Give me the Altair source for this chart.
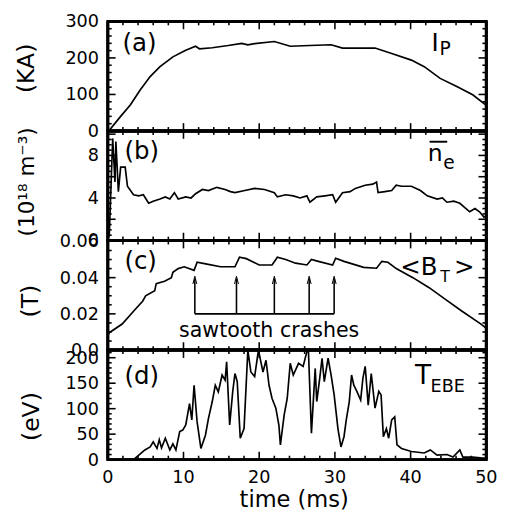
import altair as alt
import pandas as pd

FONT = "DejaVu Sans"
PL, PW, PH = 102, 387, 112          # plot left, plot width, panel height (pixels)
TOTAL_W, TOTAL_H = PL + PW, 510

# ---------------- data ----------------
time_labels = [0, 10, 20, 30, 40, 50]
time_label_text = ["0", "10", "20", "30", "40", "50"]
time_major = [10, 20, 30, 40]
time_minor = [2, 4, 6, 8, 12, 14, 16, 18, 22, 24, 26, 28, 32, 34, 36, 38, 42, 44, 46, 48]

# (a) plasma current, kA
ip_t = [0, 0.2, 1.7, 3.0, 4.3, 5.6, 6.9, 8.6, 10.3, 11.6, 12.1, 13.8, 15.9, 17.7, 18.5,
        19.4, 22.0, 24.1, 26.7, 29.5, 31.0, 35.3, 37.5, 40.1, 41.8, 43.9, 46.1, 48.2, 50]
ip_v = [0, 2, 40, 72, 113, 149, 176, 203, 221, 232, 225, 228, 234, 240, 236,
        239, 245, 232, 234, 236, 227, 227, 212, 194, 176, 144, 122, 99, 70]

# (b) line-averaged density, 1e18 m^-3
ne_t = [0, 0.2, 0.65, 0.95, 1.07, 1.4, 1.7, 2.3, 2.6, 3.4, 4.1, 4.7, 5.4, 6.0, 6.9, 7.6,
        8.2, 8.8, 9.3, 10.3, 11.0, 11.6, 12.5, 13.3, 14.4, 15.5, 16.2, 16.8, 18.1, 19.4,
        20.7, 22.0, 22.4, 23.5, 24.5, 25.4, 26.3, 26.7, 27.6, 28.7, 29.7, 30.1, 31.0, 32.0,
        32.7, 34.0, 35.0, 35.5, 35.7, 36.6, 37.5, 38.1, 38.8, 40.1, 41.3, 42.2, 43.5, 44.2,
        44.8, 45.7, 46.5, 47.8, 48.5, 49.1, 49.7, 50]
ne_v = [0, 0.5, 9.6, 5.5, 9.3, 4.6, 6.9, 6.9, 5.1, 4.3, 4.2, 4.3, 3.5, 3.7, 3.9, 4.1,
        3.9, 4.5, 3.9, 4.1, 4.0, 4.4, 4.8, 4.7, 5.0, 4.8, 4.6, 4.5, 4.7, 4.9,
        4.8, 4.5, 4.1, 4.3, 4.2, 4.0, 4.2, 3.6, 4.1, 4.2, 4.3, 3.6, 4.5, 4.6,
        4.9, 5.2, 5.3, 5.5, 4.5, 4.6, 4.7, 5.2, 5.1, 5.1, 4.7, 4.2, 3.9, 4.0,
        3.6, 3.7, 3.5, 2.7, 3.0, 2.7, 2.2, 2.3]

# (c) toroidal field, T
bt_t = [0, 0.2, 1.9, 3.7, 4.6, 5.0, 6.2, 6.4, 7.5, 8.4, 8.6, 9.3, 10.1, 11.4, 11.8,
        13.1, 14.9, 16.8, 17.4, 18.3, 20.0, 21.7, 22.4, 23.5, 24.8, 26.3, 26.9, 27.8,
        29.7, 30.1, 31.2, 33.8, 35.5, 36.2, 37.0, 38.1, 40.3, 42.4, 44.6, 46.7, 49.3, 50]
bt_v = [0.008, 0.0096, 0.0144, 0.0228, 0.027, 0.030, 0.0328, 0.0367, 0.038, 0.040, 0.043,
        0.045, 0.046, 0.044, 0.0485, 0.0475, 0.046, 0.046, 0.0513, 0.0505, 0.047, 0.047,
        0.0513, 0.050, 0.048, 0.047, 0.050, 0.049, 0.047, 0.0507, 0.049, 0.0457, 0.0452,
        0.049, 0.0485, 0.045, 0.040, 0.0346, 0.028, 0.0217, 0.0143, 0.012]
crash_times = [11.5, 17.0, 22.0, 26.6, 29.9]

# (d) electron temperature from EBE, eV
te_t = [0, 3.4, 4.1, 4.9, 5.6, 6.0, 6.5, 6.8, 7.1, 7.6, 8.2, 8.6, 9.0, 9.5, 9.9, 10.3,
        10.8, 11.1, 11.4, 11.8, 12.3, 12.9, 13.3, 13.8, 14.2, 14.6, 15.1, 15.5, 15.7, 16.1,
        16.5, 16.8, 17.1, 17.5, 18.0, 18.5, 18.9, 19.4, 19.9, 20.5, 20.9, 21.3, 21.7, 22.2,
        22.6, 22.8, 23.3, 23.7, 24.1, 24.5, 25.2, 25.8, 26.3, 26.5, 26.9, 27.4, 27.6, 28.0,
        28.3, 28.6, 29.1, 29.5, 29.9, 30.4, 30.8, 31.2, 31.5, 31.9, 32.2, 32.5, 32.9, 33.4,
        33.7, 34.0, 34.4, 34.8, 35.3, 35.8, 36.1, 36.4, 36.8, 37.1, 37.5, 37.9, 38.2, 38.8,
        40.1, 41.8, 42.6, 43.5, 44.8, 45.6, 46.5, 46.9, 48.2, 49.5, 50]
te_v = [0, 0, 9, 19, 25, 35, 22, 39, 23, 42, 19, 31, 19, 55, 58, 68,
        110, 78, 146, 74, 22, 48, 81, 114, 146, 133, 166, 156, 192, 68,
        133, 169, 153, 42, 61, 218, 172, 163, 225, 172, 195, 146, 120, 101,
        68, 29, 88, 120, 189, 166, 189, 183, 212, 225, 52, 179, 114, 160,
        199, 153, 199, 166, 127, 61, 25, 45, 78, 114, 166, 146, 134, 117,
        160, 183, 107, 169, 101, 134, 127, 45, 61, 42, 78, 84, 29, 22,
        16, 13, 19, 9, 10, 5, 19, 5, 5, 3, 3]

a_labels = [0, 100, 200, 300]
a_label_text = ["0", "100", "200", "300"]
a_major = [100, 200]
a_minor = [20, 40, 60, 80, 120, 140, 160, 180, 220, 240, 260, 280]
b_labels = [0, 4, 8]
b_label_text = ["0", "4", "8"]
b_major = [2, 4, 6, 8, 10]
b_minor = [0.5, 1, 1.5, 2.5, 3, 3.5, 4.5, 5, 5.5, 6.5, 7, 7.5, 8.5, 9, 9.5]
c_labels = [0, 0.02, 0.04, 0.06]
c_label_text = ["0.0", "0.02", "0.04", "0.06"]
c_major = [0.02, 0.04]
c_minor = [0.005, 0.01, 0.015, 0.025, 0.03, 0.035, 0.045, 0.05, 0.055]
d_labels = [0, 50, 100, 150, 200]
d_label_text = ["0", "50", "100", "150", "200"]
d_major = [50, 100, 150, 200]
d_minor = [10, 20, 30, 40, 60, 70, 80, 90, 110, 120, 130, 140, 160, 170, 180, 190, 210]

XS = alt.Scale(domain=[0, 50], range=[PL, PL + PW], nice=False, zero=False)
ONE = pd.DataFrame({"k": [0]})


def txt(s, x, y, size, align="left", baseline="alphabetic", angle=0):
    return alt.Chart(ONE).mark_text(
        font=FONT, fontSize=size, color="black", align=align, baseline=baseline,
        angle=angle
    ).encode(x=alt.value(x), y=alt.value(y), text=alt.value(s))


def vrule(x0, x1, y0, y1=None, width=3):
    enc = dict(x=alt.value(x0), x2=alt.value(x1), y=alt.value(y0))
    if y1 is not None:
        enc["y2"] = alt.value(y1)
    return alt.Chart(ONE).mark_rule(color="black", strokeWidth=width).encode(**enc)


def X(f):
    return alt.X(f, type="quantitative", scale=XS, axis=None)


def panel(top, t, v, ymax, ylabels, ytext, ymajor, yminor, title, title_size,
          title_pos, extras, bottom=False):
    ys = alt.Scale(domain=[0, ymax], range=[top + PH, top], nice=False, zero=False,
                   clamp=True)

    def Y(f):
        return alt.Y(f, type="quantitative", scale=ys, axis=None)

    def YD(val):
        return alt.datum(val, scale=ys, axis=None)

    df = pd.DataFrame({"t": t, "v": v})
    layers = [alt.Chart(df).mark_line(color="black", strokeWidth=1.7).encode(
        x=X("t"), y=Y("v"))]

    # y tick labels and title
    ld = pd.DataFrame({"v": ylabels, "s": ytext})
    layers.append(alt.Chart(ld).mark_text(
        font=FONT, fontSize=18, color="black", align="right", baseline="middle", dy=1
    ).encode(y=Y("v"), x=alt.value(PL - 9), text="s:N"))
    layers.append(txt(title, title_pos[0], title_pos[1], title_size,
                      align="center", baseline="middle", angle=270))
    if bottom:
        xd = pd.DataFrame({"t": time_labels, "s": time_label_text})
        layers.append(alt.Chart(xd).mark_text(
            font=FONT, fontSize=18, color="black", align="center", baseline="top"
        ).encode(x=X("t"), y=alt.value(top + PH + 10), text="s:N"))
        layers.append(txt("time (ms)", PL + PW / 2 - 3, top + PH + 41, 23,
                          align="center", baseline="middle"))
    layers += extras(top, YD)

    # inward ticks, lengths converted to data units of this panel
    for L, xv in ((8, time_major), (4, time_minor)):
        dy = ymax * L / PH
        d = pd.DataFrame({"t": xv})
        layers.append(alt.Chart(d).mark_rule(color="black", strokeWidth=1.6).encode(
            x=X("t"), y=YD(ymax), y2=alt.datum(ymax - dy)))
        layers.append(alt.Chart(d).mark_rule(color="black", strokeWidth=1.6).encode(
            x=X("t"), y=YD(0), y2=alt.datum(dy)))
    for L, yv in ((8, ymajor), (4, yminor)):
        dx = 50 * L / PW
        d = pd.DataFrame({"v": yv, "a": [0.0] * len(yv), "b": [dx] * len(yv),
                          "c": [50 - dx] * len(yv), "e": [50.0] * len(yv)})
        layers.append(alt.Chart(d).mark_rule(color="black", strokeWidth=1.6).encode(
            x=X("a"), x2="b:Q", y=Y("v")))
        layers.append(alt.Chart(d).mark_rule(color="black", strokeWidth=1.6).encode(
            x=X("c"), x2="e:Q", y=Y("v")))

    # frame: field-driven edges plus an outline rectangle
    fr = pd.DataFrame({"t": [0.0], "t2": [50.0]})
    layers.append(alt.Chart(fr).mark_rule(color="black", strokeWidth=3).encode(
        x=X("t"), x2="t2:Q", y=YD(ymax)))
    layers.append(alt.Chart(fr).mark_rule(color="black", strokeWidth=3).encode(
        x=X("t"), x2="t2:Q", y=YD(0)))
    layers.append(alt.Chart(fr).mark_rule(color="black", strokeWidth=3).encode(
        x=X("t"), y=YD(0), y2=alt.datum(ymax)))
    layers.append(alt.Chart(fr).mark_rule(color="black", strokeWidth=3).encode(
        x=X("t2"), y=YD(0), y2=alt.datum(ymax)))
    layers.append(alt.Chart(ONE).mark_rect(filled=False, color="black", strokeWidth=3)
                  .encode(x=alt.value(PL), x2=alt.value(PL + PW),
                          y=alt.value(top), y2=alt.value(top + PH)))
    return alt.layer(*layers)


def extras_a(top, YD):
    return [txt("(a)", PL + 15, top + 22, 25, baseline="middle"),
            txt("I", PL + 331, top + 30, 25), txt("P", PL + 339, top + 34, 19)]


def extras_b(top, YD):
    return [txt("(b)", PL + 17, top + 21, 25, baseline="middle"),
            txt("n", PL + 327, top + 31, 24), txt("e", PL + 343, top + 39, 19),
            vrule(PL + 329, PL + 347, top + 11, width=2)]


def extras_c(top, YD):
    cd = pd.DataFrame({"t": crash_times})
    shafts = alt.Chart(cd).mark_rule(color="black", strokeWidth=1.6).encode(
        x=X("t"), y=YD(0.02), y2=alt.datum(0.0395))
    bar = alt.Chart(pd.DataFrame({"t": [crash_times[0]], "b": [crash_times[-1]]})).mark_rule(
        color="black", strokeWidth=1.6).encode(x=X("t"), x2="b:Q", y=YD(0.02))
    heads = alt.Chart(cd).mark_point(
        shape="M-0.4,1.6L0,0L0.4,1.6", size=100, filled=False, color="black",
        strokeWidth=1, opacity=1).encode(x=X("t"), y=YD(0.0408))
    return [shafts, bar, heads,
            txt("(c)", PL + 17, top + 21, 25, baseline="middle"),
            txt("sawtooth crashes", PL + 165, top + 99, 21, align="center"),
            txt("<B", PL + 299, top + 35, 25), txt("T", PL + 340, top + 42, 16),
            txt(">", PL + 354, top + 35, 25)]


def extras_d(top, YD):
    return [txt("(d)", PL + 17, top + 27, 25, baseline="middle"),
            txt("T", PL + 314, top + 35, 27), txt("EBE", PL + 330, top + 43, 18)]


TOPS = [6, 6 + PH, 6 + 2 * PH, 6 + 3 * PH]

pa = panel(TOPS[0], ip_t, ip_v, 300, a_labels, a_label_text, a_major, a_minor,
           "(KA)", 24, (20, 54), extras_a)
pb = panel(TOPS[1], ne_t, ne_v, 10.3, b_labels, b_label_text, b_major, b_minor,
           "(10¹⁸ m⁻³)", 22, (20, 170), extras_b)
pc = panel(TOPS[2], bt_t, bt_v, 0.0605, c_labels, c_label_text, c_major, c_minor,
           "(T)", 24, (24, 292), extras_c)
pdd = panel(TOPS[3], te_t, te_v, 215, d_labels, d_label_text, d_major, d_minor,
            "(eV)", 24, (25, 410), extras_d, bottom=True)

chart = alt.layer(pa, pb, pc, pdd).resolve_scale(y="independent").properties(
    width=TOTAL_W, height=TOTAL_H,
    padding={"left": 0, "top": 0, "right": 3, "bottom": 0}
).configure_view(stroke="transparent")

chart.save("out.html", embed_options={"renderer": "svg", "actions": False})
